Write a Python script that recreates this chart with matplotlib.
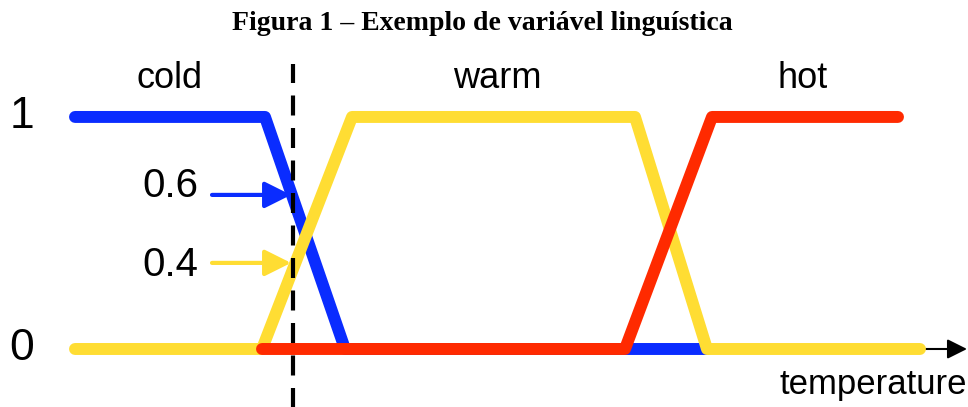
import matplotlib
matplotlib.use("Agg")
import matplotlib.pyplot as plt

# membership functions (temperature in arbitrary units, degree of membership)
cold_x = [0, 19, 27, 63.2]
cold_y = [1, 1, 0, 0]
warm_x = [0, 18.7, 27.7, 56, 63.2, 84.5]
warm_y = [0, 0, 1, 1, 0, 0]
hot_x = [18.7, 55, 63.7, 82.3]
hot_y = [0, 0, 1, 1]

labels = ["cold", "warm", "hot"]
label_x = [9.5, 42.2, 72.8]
colors = ["#0a2cff", "#ffdd33", "#ff2a00"]

reading_temp = 21.8
reading_values = [0.6, 0.4]   # cold, warm at the reading
reading_arrow_y = [0.664, 0.371]

plt.rcParams['font.family'] = ['Liberation Sans', 'DejaVu Sans']

fig = plt.figure(figsize=(9.68, 4.07), dpi=100)
ax = fig.add_axes([0, 0, 1, 1])
ax.set_xlim(-7.5, 89.3)
ax.set_ylim(-0.25, 1.504)
ax.axis("off")

lw = 8.6
# axis arrow
ax.annotate("", xy=(89.2, 0), xytext=(84.5, 0),
            arrowprops=dict(arrowstyle="-|>", color="black", lw=1.5,
                            mutation_scale=30, shrinkA=0, shrinkB=0))

ax.plot(cold_x, cold_y, color=colors[0], lw=lw, solid_capstyle="round",
        solid_joinstyle="round", zorder=2)
ax.plot(warm_x, warm_y, color=colors[1], lw=lw, solid_capstyle="round",
        solid_joinstyle="round", zorder=3)
ax.plot(hot_x, hot_y, color=colors[2], lw=lw, solid_capstyle="round",
        solid_joinstyle="round", zorder=4)

# dashed reading line
ax.plot([reading_temp, reading_temp], [-0.3, 1.23], color="black", lw=3,
        dashes=(4.8, 3), zorder=5)

for lab, lx in zip(labels, label_x):
    ax.text(lx, 1.165, lab, fontsize=26, ha="center", va="center")

ax.text(-5.3, 1, "1", fontsize=32, ha="center", va="center")
ax.text(-5.3, 0, "0", fontsize=32, ha="center", va="center")

for val, ay, c in zip(reading_values, reading_arrow_y, colors[:2]):
    ax.text(9.5, ay + 0.04 if val > 0.5 else ay - 0.01, f"{val}", fontsize=29,
            ha="center", va="center")
    ax.annotate("", xy=(21.6, ay), xytext=(13.7, ay),
                arrowprops=dict(arrowstyle="-|>", color=c, lw=3,
                                mutation_scale=40, shrinkA=0, shrinkB=0),
                zorder=6)

ax.text(79.8, -0.155, "temperature", fontsize=25, ha="center", va="center")

fig.text(0.498, 0.943, "Figura 1 \u2013 Exemplo de variável linguística",
         fontsize=20, fontweight="bold", ha="center", va="center",
         family=["Liberation Serif", "DejaVu Serif"])

fig.savefig("out.png", dpi=100)
